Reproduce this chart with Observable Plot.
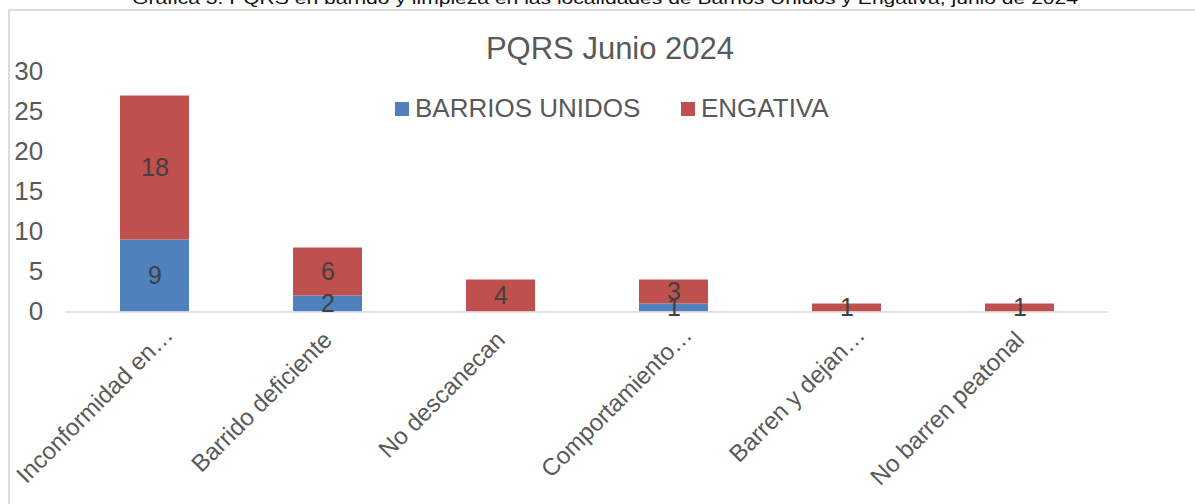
<!DOCTYPE html>
<html>
<head>
<meta charset="utf-8">
<script src="https://cdn.jsdelivr.net/npm/d3@7"></script>
<script src="https://cdn.jsdelivr.net/npm/@observablehq/plot@0.6"></script>
<style>
  html, body { margin: 0; padding: 0; background: #fff; overflow: hidden; }
  #wrap { position: relative; width: 1195px; height: 504px; overflow: hidden; font-family: "Liberation Sans", Arial, sans-serif; }
  #frame { position: absolute; left: 8px; top: 9px; width: 1400px; height: 700px; border-top: 2px solid #dcdcdc; border-left: 2px solid #dcdcdc; }
  #chart { position: absolute; left: 0; top: 0; }
  #title { position: absolute; left: 0; width: 1220px; top: 33px; text-align: center; font-size: 31px; line-height: 31px; color: #595959; white-space: nowrap; }
  #legend { position: absolute; top: 95px; left: 395px; font-size: 26px; line-height: 26px; color: #595959; white-space: nowrap; }
  .item { position: absolute; top: 0; }
  .sw { position: absolute; top: 7px; width: 14px; height: 14px; }
  .lab { position: absolute; top: 0; left: 20px; }
</style>
</head>
<body>
<div id="wrap">
  <svg id="cap" width="1195" height="20" style="position:absolute;left:0;top:0;overflow:visible"></svg>
  <div id="frame"></div>
  <div id="chart"></div>
  <div id="title"></div>
  <div id="legend"></div>
</div>
<script>
// ---- data ----
const caption = "Gráfica 3. PQRS en barrido y limpieza en las localidades de Barrios Unidos y Engativa, junio de 2024";
const chartTitle = "PQRS Junio 2024";
const categories = ["Inconformidad en…", "Barrido deficiente", "No descanecan", "Comportamiento…", "Barren y dejan…", "No barren peatonal"];
const seriesNames = ["BARRIOS UNIDOS", "ENGATIVA"];
const barriosUnidos = [9, 2, 0, 1, 0, 0];
const engativa = [18, 6, 4, 3, 1, 1];
const seriesColors = ["#4F81BD", "#C0504D"];
const yTicks = [0, 5, 10, 15, 20, 25, 30];

const data = categories.flatMap((c, i) => [
  {cat: c, series: seriesNames[0], value: barriosUnidos[i]},
  {cat: c, series: seriesNames[1], value: engativa[i]}
]);
const ellipsisCats = categories.filter(c => c.endsWith("…"));
const plainCats = categories.filter(c => !c.endsWith("…"));

// caption (top clipped like the reference)
const capSvg = d3.select("#cap");
capSvg.append("text")
  .attr("x", 132).attr("y", 4)
  .attr("textLength", 946).attr("lengthAdjust", "spacingAndGlyphs")
  .attr("font-family", "Liberation Sans, Arial, sans-serif")
  .attr("font-size", 17).attr("fill", "#111")
  .text(caption);

document.getElementById("title").textContent = chartTitle;

// legend
const leg = d3.select("#legend");
const legOffsets = [0, 286];
seriesNames.forEach((s, i) => {
  const it = leg.append("div").attr("class", "item").style("left", legOffsets[i] + "px");
  it.append("div").attr("class", "sw").style("background", seriesColors[i]);
  it.append("div").attr("class", "lab").text(s);
});

const fontFam = "Liberation Sans, Arial, sans-serif";
const plot = Plot.plot({
  width: 1195,
  height: 504,
  marginTop: 71.5,
  marginBottom: 192.5,
  marginLeft: 65.6,
  marginRight: 87.2,
  style: {fontFamily: fontFam, background: "transparent", overflow: "visible"},
  x: {domain: categories, paddingInner: 0.6, paddingOuter: 0.3},
  y: {domain: [0, 30]},
  color: {domain: seriesNames, range: seriesColors},
  marks: [
    Plot.axisY({ticks: yTicks, tickSize: 0, tickPadding: 23, fontSize: 26, color: "#595959", label: null}),
    Plot.barY(data, {x: "cat", y: "value", fill: "series"}),
    Plot.ruleY([0], {stroke: "#d9d9d9", strokeWidth: 1.6}),
    Plot.text(data, Plot.stackY({x: "cat", y: "value", z: "series",
      text: d => d.value > 0 ? String(d.value) : "", fill: "#404040", fontSize: 25})),
    Plot.axisX({ticks: plainCats, tickSize: 0, tickPadding: 24, tickRotate: -45, fontSize: 24, color: "#595959", label: null}),
    Plot.axisX({ticks: ellipsisCats, tickSize: 0, tickPadding: 24, tickRotate: -45, fontSize: 24, color: "#595959", label: null, dx: 14, dy: -5})
  ]
});
document.getElementById("chart").appendChild(plot);
</script>
</body>
</html>
